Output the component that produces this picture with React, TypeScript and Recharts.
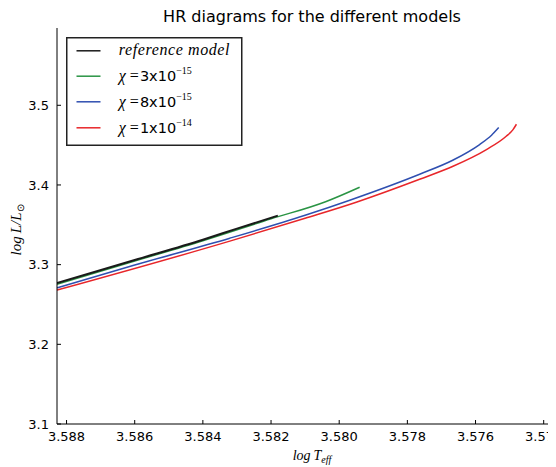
import React from 'react';
import { LineChart, Line, XAxis, YAxis, Legend } from 'recharts';

// ---- data (log Teff, log L/Lsun) ----
const refT = [3.58828, 3.586, 3.584, 3.583, 3.5818];
const refL = [3.2768, 3.3058, 3.3313, 3.3452, 3.3615];

const g3T = [3.58828, 3.586, 3.584, 3.582, 3.5804, 3.5794];
const g3L = [3.2755, 3.3045, 3.33, 3.3575, 3.379, 3.3972];

const b8T = [3.58828, 3.586, 3.58321, 3.581, 3.57969, 3.57764, 3.57667, 3.57588, 3.57553, 3.57532];
const b8L = [3.2709, 3.2995, 3.3332, 3.362, 3.3809, 3.4135, 3.431, 3.4507, 3.4624, 3.472];

const r1T = [3.58828, 3.58321, 3.581, 3.5795, 3.57764, 3.57666, 3.57568, 3.5751, 3.5749, 3.5748];
const r1L = [3.268, 3.3295, 3.3582, 3.3784, 3.4072, 3.4235, 3.4444, 3.4611, 3.4695, 3.4762];

const X_TICKS = [3.588, 3.586, 3.584, 3.582, 3.58, 3.578, 3.576, 3.574];
const Y_TICKS = [3.1, 3.2, 3.3, 3.4, 3.5];
const X_DOMAIN = [3.5727, 3.58828];
const Y_DOMAIN = [3.1, 3.597];

const toPts = (t: number[], l: number[]) => t.map((x, i) => ({ t: x, l: l[i] }));

type Series = { key: string; color: string; data: { t: number; l: number }[]; coef?: string; exp?: string };
const SERIES: Series[] = [
  { key: 'ref', color: '#1a1a1a', data: toPts(refT, refL) },
  { key: 'g', color: '#2a9444', data: toPts(g3T, g3L), coef: '3', exp: '\u221215' },
  { key: 'b', color: '#2f4fb0', data: toPts(b8T, b8L), coef: '8', exp: '\u221215' },
  { key: 'r', color: '#e8262a', data: toPts(r1T, r1L), coef: '1', exp: '\u221214' },
];

const SANS = 'DejaVu Sans';
const SERIF = 'Liberation Serif';

const BottomTick = (p: any) => (
  <g>
    <line x1={p.x} x2={p.x} y1={p.y} y2={p.y - 4} stroke="#000" strokeWidth={1} />
    <text x={p.x} y={p.y + 17} textAnchor="middle" fontFamily={SANS} fontSize={13} fill="#000">
      {Number(p.payload.value).toFixed(3)}
    </text>
  </g>
);
const TopTick = (p: any) => (
  <line x1={p.x} x2={p.x} y1={p.y} y2={p.y + 4} stroke="#000" strokeWidth={1} />
);
const LeftTick = (p: any) => (
  <g>
    <line x1={p.x} x2={p.x + 4} y1={p.y} y2={p.y} stroke="#000" strokeWidth={1} />
    <text x={p.x - 8} y={p.y + 4.6} textAnchor="end" fontFamily={SANS} fontSize={13} fill="#000">
      {Number(p.payload.value).toFixed(1)}
    </text>
  </g>
);

const LegendBox = () => {
  const rows = [13.8, 39.2, 64.8, 90.8];
  return (
    <svg width={177} height={110} style={{ display: 'block' }}>
      <rect x={0.75} y={0.75} width={175} height={107.5} fill="#fff" stroke="#222" strokeWidth={1.5} />
      {SERIES.map((s, i) => (
        <g key={s.key}>
          <line x1={10.5} x2={34.5} y1={rows[i]} y2={rows[i]} stroke={s.color} strokeWidth={1.5} />
          {s.coef === undefined ? (
            <text x={52.8} y={rows[i] + 4.5} fontFamily={SERIF} fontStyle="italic" fontSize={16} letterSpacing={0.6} fill="#000">
              reference model
            </text>
          ) : (
            <text x={52.8} y={rows[i] + 5} fontFamily={SERIF} fontSize={16} fill="#000">
              <tspan fontStyle="italic">{'\u03C7'}</tspan>
              <tspan dx={4}>=</tspan>
              <tspan dx={1} fontFamily={SANS} fontSize={14.5}>{s.coef + 'x10'}</tspan>
              <tspan dy={-7} fontSize={10}>{s.exp}</tspan>
            </text>
          )}
        </g>
      ))}
    </svg>
  );
};

export default function App() {
  return (
    <div style={{ position: 'relative', width: 548, height: 459, overflow: 'hidden', background: '#fff' }}>
      <style>{'html,body{overflow:hidden;}'}</style>
      <LineChart width={600} height={459} margin={{ top: 20, right: 20, bottom: 13, left: 9 }}>
        <XAxis
          xAxisId="b"
          dataKey="t"
          type="number"
          domain={X_DOMAIN}
          reversed
          allowDataOverflow
          ticks={X_TICKS}
          interval={0}
          height={30}
          tickSize={0}
          tickMargin={0}
          tickLine={false}
          axisLine={{ stroke: '#000', strokeWidth: 1 }}
          tick={BottomTick}
        />
        <XAxis
          xAxisId="top"
          orientation="top"
          dataKey="t"
          type="number"
          domain={X_DOMAIN}
          reversed
          allowDataOverflow
          ticks={X_TICKS}
          interval={0}
          height={0}
          tickSize={0}
          tickMargin={0}
          tickLine={false}
          axisLine={{ stroke: '#000', strokeWidth: 1 }}
          tick={TopTick}
        />
        <YAxis
          yAxisId="l"
          dataKey="l"
          type="number"
          domain={Y_DOMAIN}
          allowDataOverflow
          ticks={Y_TICKS}
          interval={0}
          width={40}
          tickSize={0}
          tickMargin={0}
          tickLine={false}
          axisLine={{ stroke: '#000', strokeWidth: 1 }}
          tick={LeftTick}
        />
        <Legend
          layout="vertical"
          align="center"
          verticalAlign="middle"
          wrapperStyle={{ position: 'absolute', left: 57.5, top: 28.5, width: 'auto', height: 'auto' }}
          content={() => <LegendBox />}
        />
        {[SERIES[1], SERIES[2], SERIES[3], SERIES[0]].map((s) => (
          <Line
            key={s.key}
            xAxisId="b"
            yAxisId="l"
            data={s.data}
            dataKey="l"
            type="monotone"
            stroke={s.color}
            strokeWidth={s.key === 'ref' ? 2 : 1.5}
            dot={false}
            activeDot={false}
            isAnimationActive={false}
          />
        ))}
      </LineChart>
      <svg width={548} height={459} style={{ position: 'absolute', left: 0, top: 0, pointerEvents: 'none' }}>
        <text x={304} y={13.5} textAnchor="middle" fontFamily={SANS} fontSize={16} fill="#000">
          HR diagrams for the different models
        </text>
        <text x={304} y={452} textAnchor="middle" fontFamily={SERIF} fontSize={14} fill="#000">
          <tspan fontStyle="italic">log</tspan>
          <tspan dx={3} fontStyle="italic">T</tspan>
          <tspan dy={3} fontSize={10} fontStyle="italic">eff</tspan>
        </text>
        <text x={13} y={222} textAnchor="middle" fontFamily={SERIF} fontSize={15} fill="#000" transform="rotate(-90 13 222)">
          <tspan fontStyle="italic">log</tspan>
          <tspan dx={3} fontStyle="italic">L</tspan>
          <tspan fontStyle="italic">/</tspan>
          <tspan fontStyle="italic">L</tspan>
          <tspan dy={3} fontSize={10}>{'\u2299'}</tspan>
        </text>
      </svg>
    </div>
  );
}
